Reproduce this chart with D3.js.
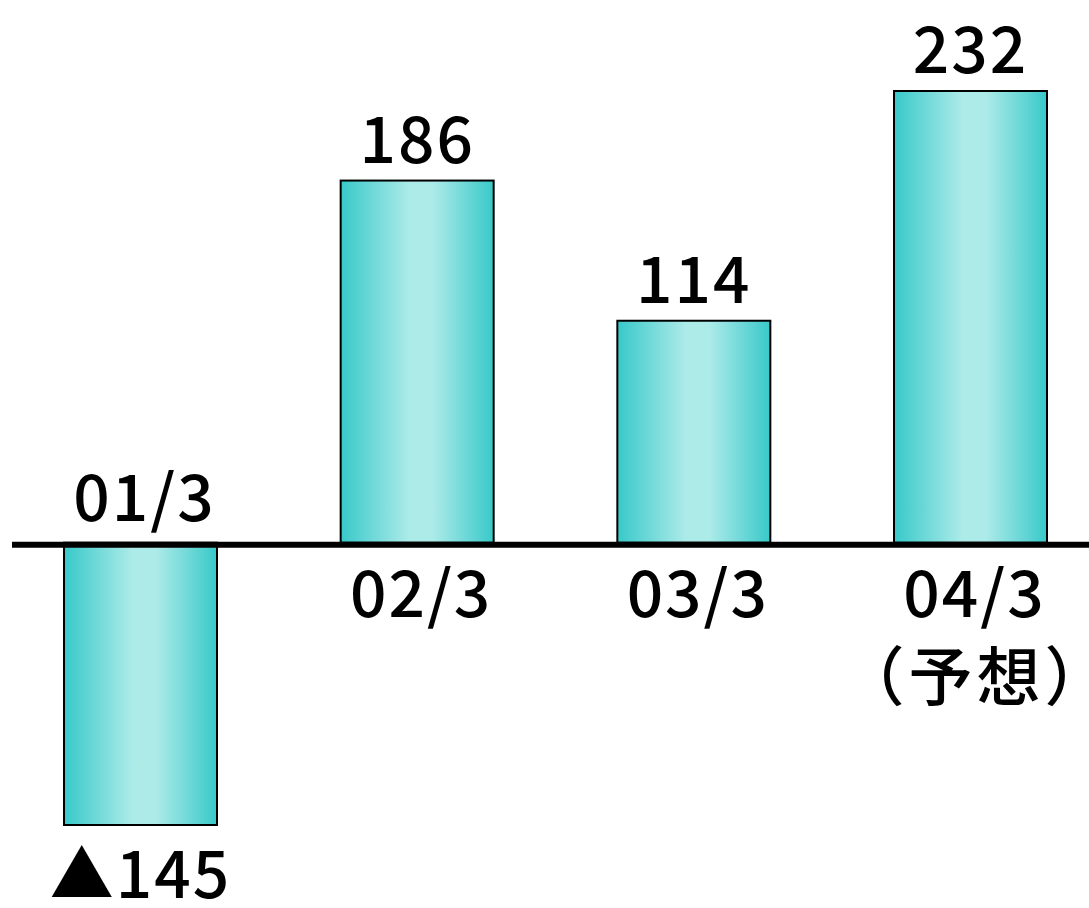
<!DOCTYPE html>
<html>
<head>
<meta charset="utf-8">
<script src="https://cdn.jsdelivr.net/npm/d3@7"></script>
<style>
  html, body { margin: 0; padding: 0; background: #fff; }
  svg { display: block; }
  text { font-family: "Noto Sans CJK JP", "Noto Sans", sans-serif; fill: #000; font-weight: 500; }
</style>
</head>
<body>
<svg id="chart" width="1089" height="908"></svg>
<script>
// Fiscal-year results (last value is a forecast)
const periods = ["01/3", "02/3", "03/3", "04/3"];
const subLabels = ["", "", "", "（予想）"];
const values = [-145, 186, 114, 232];
const valueLabels = ["▲145", "186", "114", "232"];

const svg = d3.select("#chart");
const W = 1089, H = 908;

const x = d3.scaleBand()
  .domain(periods)
  .range([64, 1047])
  .paddingInner(0.447)
  .paddingOuter(0);

const y = d3.scaleLinear()
  .domain([-145, 232])
  .range([825, 91]);

// horizontal teal gradient, light in the middle
const defs = svg.append("defs");
const grad = defs.append("linearGradient")
  .attr("id", "barGrad")
  .attr("x1", "0%").attr("x2", "100%")
  .attr("y1", "0%").attr("y2", "0%");
grad.append("stop").attr("offset", "0%").attr("stop-color", "#38c9c9");
grad.append("stop").attr("offset", "45%").attr("stop-color", "#adebe9");
grad.append("stop").attr("offset", "60%").attr("stop-color", "#adebe9");
grad.append("stop").attr("offset", "100%").attr("stop-color", "#38c9c9");

const data = periods.map((p, i) => ({ p, v: values[i], label: valueLabels[i], sub: subLabels[i] }));

// bars
svg.append("g").selectAll("rect")
  .data(data)
  .join("rect")
  .attr("x", d => x(d.p))
  .attr("width", x.bandwidth())
  .attr("y", d => y(Math.max(0, d.v)))
  .attr("height", d => Math.abs(y(d.v) - y(0)))
  .attr("fill", "url(#barGrad)")
  .attr("stroke", "#000")
  .attr("stroke-width", 2);

// zero line
svg.append("line")
  .attr("x1", 12).attr("x2", W)
  .attr("y1", y(0) + 2).attr("y2", y(0) + 2)
  .attr("stroke", "#000")
  .attr("stroke-width", 6);

const fs = 64;

// value labels
svg.append("g").selectAll("text")
  .data(data)
  .join("text")
  .attr("x", d => x(d.p) + x.bandwidth() / 2)
  .attr("y", d => d.v >= 0 ? y(d.v) - 18 : y(d.v) + 73)
  .attr("text-anchor", "middle")
  .attr("font-size", fs)
  .attr("letter-spacing", 2)
  .text(d => d.label);

// period labels: above the line for a negative bar, below otherwise
svg.append("g").selectAll("text")
  .data(data)
  .join("text")
  .attr("x", d => x(d.p) + x.bandwidth() / 2 + 4)
  .attr("y", d => d.v < 0 ? y(0) - 22 : y(0) + 74)
  .attr("text-anchor", "middle")
  .attr("font-size", fs)
  .attr("letter-spacing", 2)
  .text(d => d.p);

svg.append("g").selectAll("text")
  .data(data.filter(d => d.sub))
  .join("text")
  .attr("x", d => x(d.p) + x.bandwidth() / 2 + 6)
  .attr("y", y(0) + 157)
  .attr("text-anchor", "middle")
  .attr("font-size", fs)
  .attr("letter-spacing", 4)
  .text(d => d.sub);
</script>
</body>
</html>
